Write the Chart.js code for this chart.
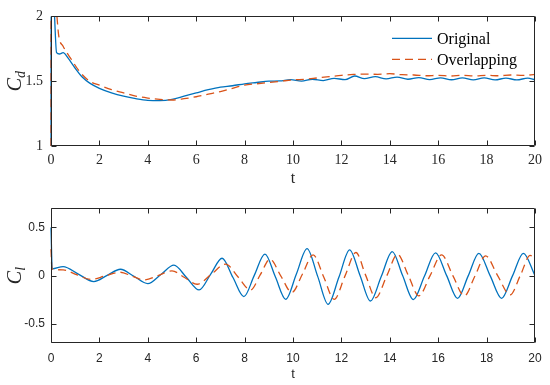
<!DOCTYPE html>
<html>
<head>
<meta charset="utf-8">
<script src="https://cdn.jsdelivr.net/npm/chart.js@4.4.1/dist/chart.umd.min.js"></script>
<style>
  body { margin: 0; background: #fff; }
  canvas { position: absolute; left: 0; }
  #dragChart { top: 0; }
  #liftChart { top: 195px; }
</style>
</head>
<body>
<canvas id="dragChart" width="550" height="195"></canvas>
<canvas id="liftChart" width="550" height="190"></canvas>
<script>
// axis ticks
const tTicks = [0, 2, 4, 6, 8, 10, 12, 14, 16, 18, 20];
const dragTicks = [1, 1.5, 2];
const liftTicks = [-0.5, 0, 0.5];
const seriesNames = ['Original', 'Overlapping'];

// Cd, original
const dragOrigT = [0, 0.005, 0.12, 0.23, 0.35, 0.5, 0.7, 1.0, 1.3, 1.6, 2.0, 2.5, 3.0, 3.5, 4.0, 4.5, 5.0, 5.5, 6.0, 6.5, 7.0, 7.5, 8.0, 8.5, 9.0, 9.45, 9.9, 10.35, 10.8, 11.25, 11.7, 12.15, 12.55, 12.95, 13.4, 13.85, 14.3, 14.75, 15.2, 15.65, 16.1, 16.55, 17.0, 17.45, 17.9, 18.35, 18.8, 19.25, 19.7, 20];
const dragOrigV = [1.0, 2.3, 2.1, 1.72, 1.71, 1.72, 1.68, 1.6, 1.53, 1.485, 1.445, 1.41, 1.384, 1.365, 1.352, 1.35, 1.36, 1.385, 1.41, 1.435, 1.455, 1.465, 1.48, 1.49, 1.5, 1.502, 1.512, 1.5, 1.515, 1.505, 1.522, 1.512, 1.54, 1.52, 1.535, 1.518, 1.532, 1.515, 1.528, 1.512, 1.526, 1.511, 1.525, 1.51, 1.525, 1.51, 1.524, 1.51, 1.524, 1.512];

// Cd, overlapping
const dragOverT = [0, 0.005, 0.22, 0.32, 0.5, 0.8, 1.2, 1.6, 2.0, 2.5, 3.0, 3.5, 4.0, 4.5, 5.0, 5.5, 6.0, 6.5, 7.0, 7.5, 8.0, 8.5, 9.0, 9.5, 10.0, 10.5, 11.0, 11.5, 12.0, 12.5, 13.0, 13.5, 14.0, 14.5, 15.0, 15.5, 16.0, 16.5, 17.0, 17.5, 18.0, 18.5, 19.0, 19.5, 20];
const dragOverV = [1.0, 2.3, 2.05, 1.85, 1.77, 1.68, 1.57, 1.5, 1.47, 1.435, 1.41, 1.385, 1.37, 1.36, 1.355, 1.365, 1.38, 1.4, 1.42, 1.445, 1.47, 1.48, 1.49, 1.5, 1.51, 1.515, 1.525, 1.535, 1.545, 1.552, 1.555, 1.553, 1.558, 1.55, 1.548, 1.542, 1.545, 1.54, 1.545, 1.54, 1.545, 1.542, 1.548, 1.545, 1.552];

// Cl, original
const liftOrigT = [0, 0.05, 0.5, 1.13, 1.77, 2.32, 2.87, 3.43, 4.0, 4.54, 5.08, 5.6, 6.12, 6.6, 7.07, 7.52, 7.97, 8.4, 8.84, 9.27, 9.7, 10.14, 10.58, 11.02, 11.45, 11.9, 12.34, 12.77, 13.2, 13.65, 14.1, 14.53, 14.97, 15.43, 15.89, 16.35, 16.8, 17.24, 17.68, 18.15, 18.62, 19.07, 19.52, 20];
const liftOrigV = [0.5, 0.07, 0.094, 0.016, -0.062, 0.002, 0.066, -0.008, -0.083, 0.012, 0.108, -0.02, -0.149, 0.015, 0.18, -0.02, -0.218, 0.002, 0.222, -0.012, -0.246, 0.017, 0.281, -0.008, -0.298, -0.015, 0.268, 0.002, -0.264, -0.007, 0.25, 0, -0.25, -0.007, 0.236, 0, -0.236, -0.003, 0.23, -0.003, -0.236, -0.003, 0.23, 0];

// Cl, overlapping
const liftOverT = [0, 0.04, 0.5, 1.05, 1.65, 2.25, 2.85, 3.35, 3.85, 4.45, 5.0, 5.52, 6.04, 6.63, 7.22, 7.73, 8.25, 8.65, 9.05, 9.5, 9.95, 10.4, 10.83, 11.27, 11.7, 12.15, 12.6, 13.0, 13.42, 13.87, 14.32, 14.76, 15.2, 15.67, 16.14, 16.6, 17.08, 17.52, 17.96, 18.45, 18.97, 19.4, 19.8, 20];
const liftOverV = [0.275, 0.07, 0.06, 0.01, -0.04, -0.002, 0.035, -0.005, -0.045, 0.003, 0.05, -0.02, -0.09, 0.015, 0.12, -0.015, -0.15, 0.01, 0.17, -0.005, -0.175, 0.02, 0.216, -0.015, -0.246, -0.003, 0.24, 0.005, -0.23, -0.005, 0.22, 0.005, -0.21, 0.003, 0.216, 0.003, -0.21, -0.003, 0.205, 0.003, -0.2, 0.005, 0.21, 0.17];

const blue = '#0072BD';
const orange = '#D95319';
const axisColor = '#262626';
const serif = 'Liberation Serif';
const sans = 'Liberation Sans';

function pts(ts, vs) {
  return ts.map((t, i) => ({ x: t, y: vs[i] }));
}

function lineSets(origT, origV, overT, overV) {
  const common = {
    pointRadius: 0,
    borderWidth: 1.3,
    fill: false,
    cubicInterpolationMode: 'monotone',
    clip: { left: 2, top: 0, right: 0, bottom: 0 }
  };
  // order: blue drawn first, dashed orange on top
  return [
    { ...common, label: seriesNames[0], data: pts(origT, origV), borderColor: blue, order: 1 },
    { ...common, label: seriesNames[1], data: pts(overT, overV), borderColor: orange, borderDash: [8, 5], order: 0 }
  ];
}

// box round the plot with inward ticks on all four sides
const frame = {
  id: 'frame',
  afterDatasetsDraw(chart) {
    const { ctx, chartArea: a, scales: { x, y } } = chart;
    const L = Math.round(a.left) + 0.5, R = Math.round(a.right) - 0.5;
    const T = Math.round(a.top) + 0.5, B = Math.round(a.bottom) - 0.5;
    ctx.save();
    ctx.strokeStyle = axisColor;
    ctx.lineWidth = 1;
    ctx.beginPath();
    ctx.rect(L, T, R - L, B - T);
    x.ticks.forEach(tk => {
      const px = Math.round(x.getPixelForValue(tk.value)) + 0.5;
      ctx.moveTo(px, B); ctx.lineTo(px, B - 5);
      ctx.moveTo(px, T); ctx.lineTo(px, T + 5);
    });
    y.ticks.forEach(tk => {
      const py = Math.round(y.getPixelForValue(tk.value)) + 0.5;
      ctx.moveTo(L, py); ctx.lineTo(L + 5, py);
      ctx.moveTo(R, py); ctx.lineTo(R - 5, py);
    });
    ctx.stroke();
    ctx.restore();
  }
};

// italic C with subscript, rotated
function yTitle(sub) {
  return {
    id: 'yTitle',
    afterDraw(chart) {
      const { ctx, chartArea: a } = chart;
      const cy = (a.top + a.bottom) / 2;
      ctx.save();
      ctx.translate(21, cy);
      ctx.rotate(-Math.PI / 2);
      ctx.fillStyle = axisColor;
      ctx.textBaseline = 'alphabetic';
      ctx.font = 'italic 20px "' + serif + '"';
      const wC = ctx.measureText('C').width;
      ctx.font = 'italic 14px "' + serif + '"';
      const wS = ctx.measureText(sub).width;
      const x0 = -(wC + wS) / 2;
      ctx.font = 'italic 20px "' + serif + '"';
      ctx.fillText('C', x0, 0);
      ctx.font = 'italic 14px "' + serif + '"';
      ctx.fillText(sub, x0 + wC, 4);
      ctx.restore();
    }
  };
}

const legendBox = {
  id: 'legendBox',
  afterDraw(chart) {
    const { ctx, chartArea: a } = chart;
    ctx.save();
    chart.data.datasets.forEach((ds, i) => {
      const ly = a.top + 22 + i * 21;
      ctx.strokeStyle = ds.borderColor;
      ctx.lineWidth = ds.borderWidth;
      ctx.setLineDash(ds.borderDash || []);
      ctx.beginPath();
      ctx.moveTo(a.right - 143, ly);
      ctx.lineTo(a.right - 103, ly);
      ctx.stroke();
      ctx.setLineDash([]);
      ctx.fillStyle = '#000';
      ctx.font = '16px "' + serif + '"';
      ctx.textBaseline = 'middle';
      ctx.fillText(ds.label, a.right - 98, ly + 1);
    });
    ctx.restore();
  }
};

function makeChart(id, datasets, yMin, yMax, yTicks, opts) {
  return new Chart(document.getElementById(id), {
    type: 'line',
    data: { datasets },
    options: {
      responsive: false,
      animation: false,
      devicePixelRatio: 1,
      layout: { padding: { top: opts.top, right: 15, left: 0, bottom: 0 } },
      plugins: { legend: { display: false }, tooltip: { enabled: false } },
      scales: {
        x: {
          type: 'linear',
          min: 0,
          max: 20,
          afterBuildTicks: s => { s.ticks = tTicks.map(v => ({ value: v })); },
          afterFit: s => { s.height = opts.xHeight; },
          grid: { display: false, drawTicks: false },
          border: { display: false },
          ticks: { color: axisColor, font: { family: opts.font, size: opts.tickSize }, padding: opts.xPad, maxRotation: 0, callback: v => String(v) },
          title: { display: true, text: 't', color: axisColor, font: { family: opts.font, size: opts.titleSize }, padding: { top: 0, bottom: opts.titlePad } }
        },
        y: {
          type: 'linear',
          min: yMin,
          max: yMax,
          afterBuildTicks: s => { s.ticks = yTicks.map(v => ({ value: v })); },
          afterFit: s => { s.width = 51; },
          grid: { display: false, drawTicks: false },
          border: { display: false },
          ticks: { color: axisColor, font: { family: opts.font, size: opts.tickSize }, padding: opts.yPad, callback: v => String(v) }
        }
      }
    },
    plugins: opts.plugins
  });
}

makeChart('dragChart', lineSets(dragOrigT, dragOrigV, dragOverT, dragOverV), 1, 2, dragTicks, {
  top: 9, xHeight: 49, font: serif, tickSize: 14, titleSize: 16, xPad: 6, yPad: 8, titlePad: 7,
  plugins: [frame, yTitle('d'), legendBox]
});

makeChart('liftChart', lineSets(liftOrigT, liftOrigV, liftOverT, liftOverV), -0.7, 0.7, liftTicks, {
  top: 12, xHeight: 42, font: sans, tickSize: 12, titleSize: 13, xPad: 8, yPad: 6, titlePad: 3,
  plugins: [frame, yTitle('l')]
});
</script>
</body>
</html>
